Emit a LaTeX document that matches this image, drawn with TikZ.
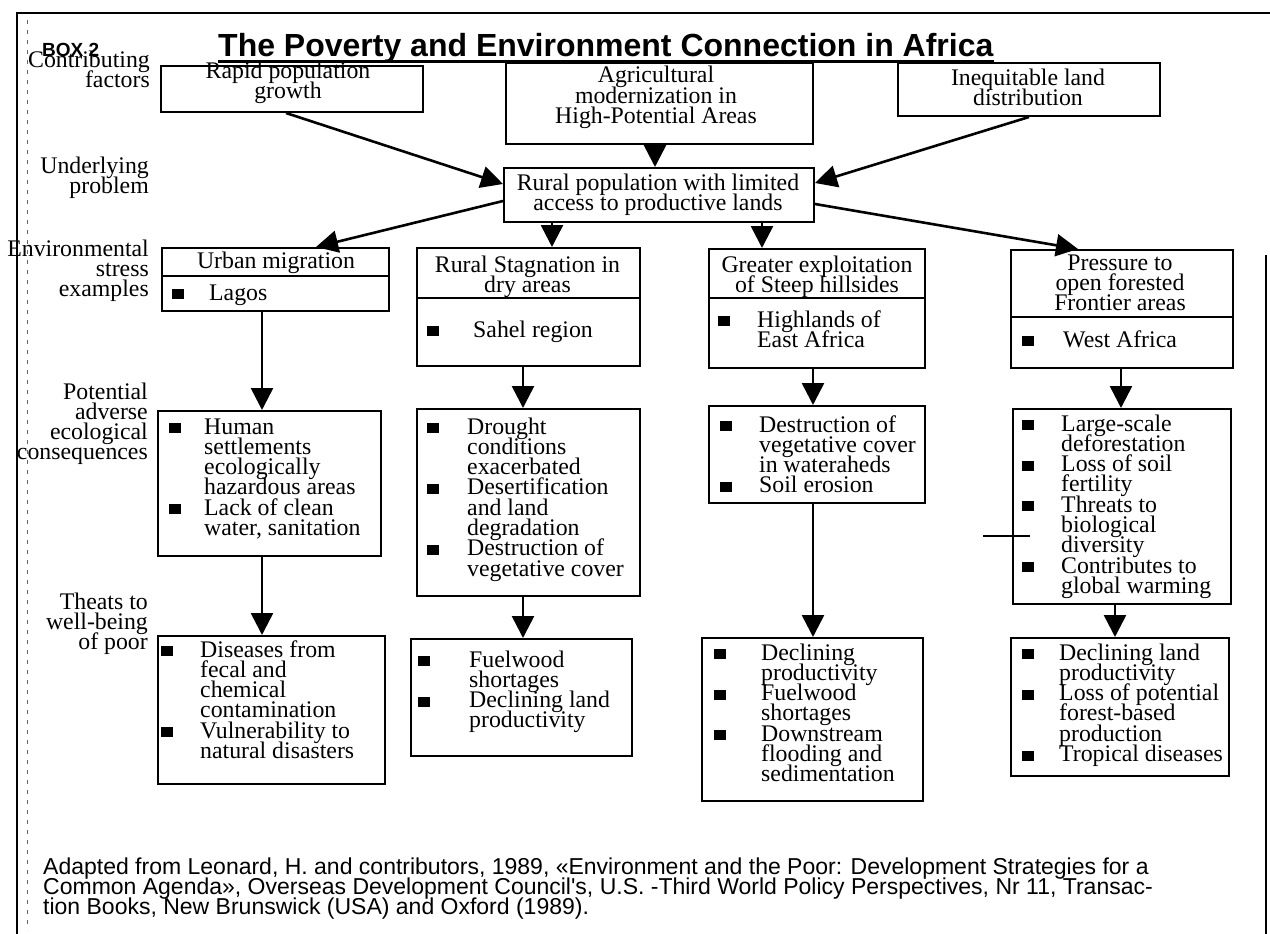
\documentclass[tikz,border=0pt]{standalone}
\usepackage{fontspec}
\setmainfont{Liberation Serif}
\newfontfamily\sansf{Liberation Sans}
\usetikzlibrary{arrows.meta}

% text settings: body serif with a tight fixed line pitch
\newcommand\bodyfont{\fontsize{23.8pt}{20.3pt}\selectfont}
\newcommand\bul{\rule[1pt]{12pt}{10pt}}
% stacked lines: left, centred, right aligned; baseline = first line
\newcommand\lns[1]{\vtop{\let\\\cr\lineskiplimit=-100pt\lineskip=0pt\halign{##\hfil\cr#1\crcr}}}
\newcommand\clns[1]{\vtop{\let\\\cr\lineskiplimit=-100pt\lineskip=0pt\halign{\hfil##\hfil\cr#1\crcr}}}
\newcommand\rlns[1]{\vtop{\let\\\cr\lineskiplimit=-100pt\lineskip=0pt\halign{\hfil##\cr#1\crcr}}}
% bullet list: #1 = distance from bullet to text
\newcommand\blst[2]{\vtop{\let\\\cr\lineskiplimit=-100pt\lineskip=0pt\halign{\hbox to #1{##\hfil}&##\hfil\cr#2\crcr}}}

\begin{document}
\begin{tikzpicture}[x=1pt,y=-1pt,
  bx/.style={draw,line width=2pt,inner sep=0pt,anchor=north west},
  tx/.style={inner sep=0pt,font=\bodyfont},
  lbl/.style={tx,anchor=base east},
  ctr/.style={tx,anchor=base},
  lst/.style={tx,anchor=base west},
  arr/.style={line width=2.6pt,-{Triangle[length=22pt,width=22pt]}},
  sep/.style={line width=2pt},
  frm/.style={line width=2.5pt}]

\fill[white] (0,0) rectangle (1270,934);
\useasboundingbox (0,0) rectangle (1270,934);

% frame
\draw[frm] (17,934) -- (17,13) -- (1270,13);
\draw[frm] (1266,255) -- (1266,934);
\draw[line width=0.7pt,dash pattern=on 4pt off 6pt,black!60] (27,20) -- (27,930);

% heading
\node[inner sep=0pt,anchor=base west,font=\sansf\bfseries\fontsize{19pt}{19pt}\selectfont] (box) at (42,57) {BOX 2};
\node[inner sep=0pt,anchor=base west,font=\sansf\bfseries\fontsize{32pt}{32pt}\selectfont] (title) at (218,57) {The Poverty and Environment Connection in Africa};
\draw[line width=2.2pt] ([yshift=-4.5pt]title.base west) -- ([yshift=-4.5pt]title.base east);

% row labels
\node[lbl] (l1) at (150,67) {\rlns{Contributing\\factors}};
\node[lbl] (l2) at (149,173) {\rlns{Underlying\\problem}};
\node[lbl] (l3) at (149,256) {\rlns{Environmental\\stress\\examples}};
\node[lbl] (l4) at (148,399) {\rlns{Potential\\adverse\\ecological\\consequences}};
\node[lbl] (l5) at (148,609) {\rlns{Theats to\\well-being\\of poor}};

% contributing factors
\node[bx,minimum width=262pt,minimum height=46pt] (rapid) at (160,65) {};
\node[ctr] (rapidT) at (288,78) {\clns{Rapid population\\growth}};
\node[bx,minimum width=307pt,minimum height=81pt] (agri) at (505,62) {};
\node[ctr] (agriT) at (656,83) {\clns{Agricultural\\modernization in\\High-Potential Areas}};
\node[bx,minimum width=262pt,minimum height=53pt] (ineq) at (897,62) {};
\node[ctr] (ineqT) at (1028,85) {\clns{Inequitable land\\distribution}};

% underlying problem
\node[bx,minimum width=310pt,minimum height=54pt] (rural) at (503,167) {};
\node[ctr] (ruralT) at (658,190) {\clns{Rural population with limited\\access to productive lands}};

% environmental stress examples
\node[bx,minimum width=227pt,minimum height=63pt] (urban) at (161,247) {};
\draw[sep] ([yshift=-29pt]urban.north west) -- ([yshift=-29pt]urban.north east);
\node[ctr] (urbanT) at (276,268) {Urban migration};
\node[lst] (urbanB) at (172,300) {\blst{37pt}{\bul&Lagos}};

\node[bx,minimum width=223pt,minimum height=118pt] (rs) at (416,247) {};
\draw[sep] ([yshift=-51pt]rs.north west) -- ([yshift=-51pt]rs.north east);
\node[ctr] (rsT) at (527.5,272) {\clns{Rural Stagnation in\\dry areas}};
\node[lst] (rsB) at (427,337) {\blst{46pt}{\bul&Sahel region}};

\node[bx,minimum width=216pt,minimum height=119pt] (grt) at (708,248) {};
\draw[sep] ([yshift=-50pt]grt.north west) -- ([yshift=-50pt]grt.north east);
\node[ctr] (grtT) at (817,272) {\clns{Greater exploitation\\of Steep hillsides}};
\node[lst] (grtB) at (718,327) {\blst{39pt}{\bul&Highlands of\\&East Africa}};

\node[bx,minimum width=222pt,minimum height=118pt] (prs) at (1010,249) {};
\draw[sep] ([yshift=-68pt]prs.north west) -- ([yshift=-68pt]prs.north east);
\node[ctr] (prsT) at (1120,270) {\clns{Pressure to\\open forested\\Frontier areas}};
\node[lst] (prsB) at (1022,347) {\blst{41pt}{\bul&West Africa}};

% potential adverse ecological consequences
\node[bx,minimum width=223pt,minimum height=145pt] (human) at (157,410) {};
\node[lst] (humanB) at (169,434) {\blst{35pt}{\bul&Human\\&settlements\\&ecologically\\&hazardous areas\\\bul&Lack of clean\\&water, sanitation}};

\node[bx,minimum width=223pt,minimum height=187pt] (drought) at (416,408) {};
\node[lst] (droughtB) at (427,434) {\blst{40pt}{\bul&Drought\\&conditions\\&exacerbated\\\bul&Desertification\\&and land\\&degradation\\\bul&Destruction of\\&vegetative cover}};

\node[bx,minimum width=216pt,minimum height=97pt] (grtc) at (708,405) {};
\node[lst] (grtcB) at (720,432) {\blst{39pt}{\bul&Destruction of\\&vegetative cover\\&in wateraheds\\\bul&Soil erosion}};

\node[bx,minimum width=218pt,minimum height=195pt] (prsc) at (1012,408) {};
\node[lst] (prscB) at (1022,431) {\blst{39pt}{\bul&Large-scale\\&deforestation\\\bul&Loss of soil\\&fertility\\\bul&Threats to\\&biological\\&diversity\\\bul&Contributes to\\&global warming}};

% threats to well-being of poor
\node[bx,minimum width=227pt,minimum height=148pt] (dis) at (157,635) {};
\node[lst] (disB) at (161,657) {\blst{39pt}{\bul&Diseases from\\&fecal and\\&chemical\\&contamination\\\bul&Vulnerability to\\&natural disasters}};

\node[bx,minimum width=221pt,minimum height=117pt] (fuel) at (410,638) {};
\node[lst] (fuelB) at (418,667) {\blst{51pt}{\bul&Fuelwood\\&shortages\\\bul&Declining land\\&productivity}};

\node[bx,minimum width=221pt,minimum height=163pt] (grtt) at (701,637) {};
\node[lst] (grttB) at (714,660) {\blst{47pt}{\bul&Declining\\&productivity\\\bul&Fuelwood\\&shortages\\\bul&Downstream\\&flooding and\\&sedimentation}};

\node[bx,minimum width=218pt,minimum height=138pt] (prst) at (1010,637) {};
\node[lst] (prstB) at (1022,660) {\blst{37pt}{\bul&Declining land\\&productivity\\\bul&Loss of potential\\&forest-based\\&production\\\bul&Tropical diseases}};

% connectors
\draw[arr] ([xshift=-6pt]rapid.south) -- ([yshift=11pt]rural.west);
\draw[arr] ([xshift=-4.5pt]agri.south) -- ([xshift=-4pt]rural.north);
\draw[arr] (ineq.south) -- ([yshift=12pt]rural.east);

\draw[arr] ([yshift=-6pt]rural.west) -- ([xshift=40.5pt]urban.north);
\draw[arr] ([xshift=-107pt]rural.south) -- ([xshift=23.5pt]rs.north);
\draw[arr] ([xshift=103pt]rural.south) -- ([xshift=-55pt]grt.north);
\draw[arr] ([yshift=-9pt]rural.east) -- ([xshift=-44pt]prs.north);

\draw[arr] ([xshift=-13.5pt]urban.south) -- ([xshift=-7.5pt]human.north);
\draw[arr] ([xshift=-5.5pt]rs.south) -- ([xshift=-5.5pt]drought.north);
\draw[arr] ([xshift=-4pt]grt.south) -- ([xshift=-4pt]grtc.north);
\draw[arr] ([xshift=-1pt]prs.south) -- ([xshift=-1pt]prsc.north);

\draw[arr] ([xshift=-7.5pt]human.south) -- ([xshift=-9.5pt]dis.north);
\draw[arr] ([xshift=-5.5pt]drought.south) -- ([xshift=1.5pt]fuel.north);
\draw[arr] ([xshift=-4pt]grtc.south) -- ([xshift=0.5pt]grtt.north);
\draw[arr] ([xshift=-7pt]prsc.south) -- ([xshift=-5pt]prst.north);

% stray rule beside the forest box
\draw[line width=1.2pt] (983,536) -- (1030,536);

% source
\node[inner sep=0pt,anchor=base west,font=\sansf\fontsize{23pt}{20pt}\selectfont] (src) at (43,874)
  {\lns{Adapted from Leonard, H. and contributors, 1989, «Environment and the Poor: Development Strategies for a\\Common Agenda», Overseas Development Council's, U.S. -Third World Policy Perspectives, Nr 11, Transac-\\tion Books, New Brunswick (USA) and Oxford (1989).}};
\end{tikzpicture}
\end{document}
